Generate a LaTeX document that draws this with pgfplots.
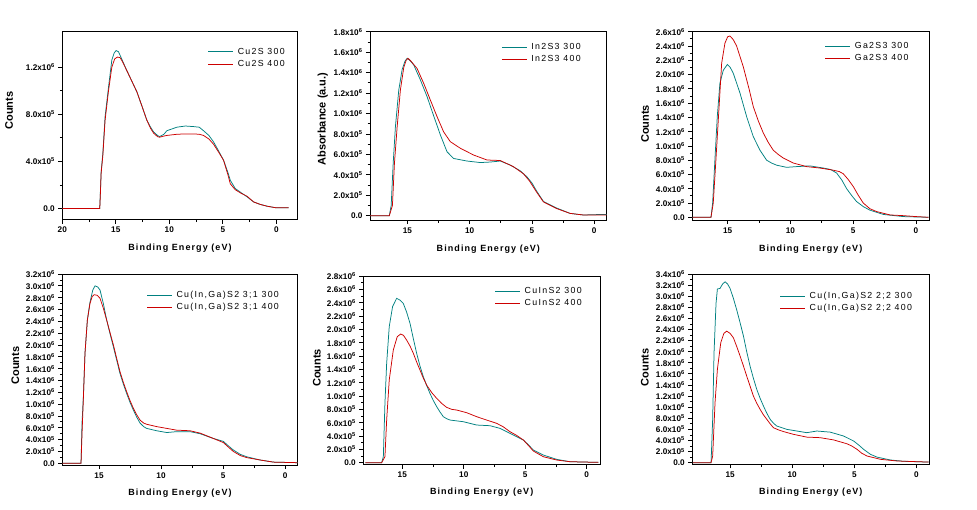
\documentclass[border=0pt]{standalone}
\usepackage{fontspec}
\setmainfont{Liberation Sans}
\newfontfamily\tickfont{Liberation Sans}
\newfontfamily\xlabfont[LetterSpace=12]{Liberation Sans}
\newfontfamily\legfont[LetterSpace=15]{Liberation Sans}
\usepackage{pgfplots}
\pgfplotsset{compat=1.18}
\definecolor{cteal}{RGB}{0,128,128}
\definecolor{cred}{RGB}{204,0,0}
\newcommand\tf[2]{#1x10\textsuperscript{#2}}
\pgfplotsset{
  panel/.style={
    scale only axis, anchor=south west, x dir=reverse,
    axis line style={line width=0.8pt, black},
    tick align=outside, xtick pos=bottom, ytick pos=left,
    major tick length=4pt, minor tick length=2.5pt,
    every tick/.style={black, line width=0.8pt},
    minor x tick num=1, minor y tick num=1,
    /pgf/number format/assume math mode=true,
    tick label style={font=\tickfont\bfseries\fontsize{8.2}{9}\selectfont},
    xlabel={Binding Energy (eV)},
    xlabel style={font=\xlabfont\bfseries\fontsize{9}{10}\selectfont, anchor=center},
    ylabel style={font=\bfseries\fontsize{11}{12}\selectfont, anchor=center},
    legend cell align=left,
    legend image code/.code={\draw[#1] (0pt,0pt) -- (25pt,0pt);},
    legend style={draw=none, fill=none, inner sep=0pt, outer sep=0pt,
      row sep=4.5pt, column sep=4pt, anchor=north west,
      font=\legfont\fontsize{8.8}{9}\selectfont,
      nodes={inner sep=0pt}},
    every axis plot/.append style={line width=0.75pt},
  },
}
\begin{document}
\begin{tikzpicture}
\useasboundingbox (0,0) rectangle (977pt,-509pt);
% ---------------- Panel 1: Cu2S
\begin{axis}[panel, at={(62.3pt,-219.5pt)}, width=235.4pt, height=187.8pt,
  xmin=-2, xmax=20, ymin=-0.093, ymax=1.5,
  xtick={20,15,10,5,0},
  ytick={0,0.4,0.8,1.2},
  yticklabels={0.0,\tf{4.0}{5},\tf{8.0}{5},\tf{1.2}{6}},
  ylabel={Counts},
  ylabel style={at={(axis description cs:-0.226,0.58)}},
  xlabel style={at={(axis description cs:0.5,-0.154)}},
  legend style={at={(axis description cs:0.619,0.913)}}]
\addplot[cteal] coordinates {(20,0) (16.5,0) (16.45,0.12) (16.37,0.31) (16.21,0.47) (16.0,0.78) (15.68,1.03) (15.37,1.26) (15.15,1.32) (14.97,1.34) (14.75,1.33) (14.5,1.28) (13.97,1.17) (13.5,1.08) (13.03,0.99) (12.6,0.88) (12.1,0.75) (11.75,0.69) (11.47,0.65) (11.1,0.62) (10.91,0.61) (10.5,0.63) (10.23,0.66) (9.29,0.69) (8.5,0.70) (7.73,0.695) (7.2,0.69) (6.80,0.66) (6.3,0.62) (5.86,0.565) (5.4,0.49) (4.93,0.41) (4.5,0.30) (4.30,0.24) (3.84,0.17) (3.3,0.135) (2.74,0.10) (2.12,0.056) (1.5,0.035) (0.87,0.02) (0,0.006) (-1.15,0.006)};
\addplot[cred] coordinates {(20,0) (16.5,0) (16.45,0.10) (16.37,0.30) (16.21,0.45) (16.0,0.75) (15.68,1.0) (15.37,1.2) (15.1,1.27) (14.84,1.285) (14.6,1.28) (14.4,1.25) (13.97,1.17) (13.5,1.08) (13.03,0.99) (12.6,0.88) (12.1,0.75) (11.75,0.68) (11.47,0.64) (11.1,0.61) (10.91,0.605) (10.5,0.615) (10.23,0.62) (9.29,0.63) (8.5,0.633) (7.73,0.633) (7.2,0.63) (6.80,0.62) (6.3,0.59) (5.86,0.545) (5.4,0.48) (4.93,0.41) (4.5,0.28) (4.30,0.21) (3.84,0.16) (3.3,0.13) (2.74,0.105) (2.12,0.056) (1.5,0.035) (0.87,0.02) (0,0.006) (-1.15,0.006)};
\legend{Cu2S 300, Cu2S 400}
\end{axis}
% ---------------- Panel 2: In2S3
\begin{axis}[panel, at={(370pt,-220pt)}, width=236.7pt, height=188.3pt,
  xmin=-1, xmax=18, ymin=-0.042, ymax=1.8,
  xtick={15,10,5,0},
  ytick={0,0.2,0.4,0.6,0.8,1.0,1.2,1.4,1.6,1.8},
  yticklabels={0.0,\tf{2.0}{5},\tf{4.0}{5},\tf{6.0}{5},\tf{8.0}{5},\tf{1.0}{6},\tf{1.2}{6},\tf{1.4}{6},\tf{1.6}{6},\tf{1.8}{6}},
  ylabel={Absorbance (a.u.)},
  ylabel style={at={(axis description cs:-0.199,0.536)}},
  xlabel style={at={(axis description cs:0.5,-0.154)}},
  legend style={at={(axis description cs:0.556,0.938)}}]
\addplot[cteal] coordinates {(18,0) (16.45,0) (16.3,0.1) (16.14,0.51) (15.96,0.87) (15.69,1.23) (15.42,1.43) (15.2,1.51) (15.02,1.54) (14.8,1.52) (14.49,1.475) (13.96,1.33) (13.42,1.165) (12.87,0.97) (12.35,0.79) (11.82,0.626) (11.29,0.56) (10.22,0.535) (9.15,0.52) (8.35,0.525) (7.55,0.535) (6.75,0.496) (5.95,0.44) (5.4,0.38) (5.0,0.32) (4.62,0.24) (4.08,0.14) (3.02,0.075) (1.95,0.023) (0.88,0.007) (0,0.01) (-0.72,0.013) (-1,0.013)};
\addplot[cred] coordinates {(18,0) (16.45,0) (16.2,0.1) (16.04,0.51) (15.82,0.87) (15.56,1.23) (15.29,1.45) (15.1,1.52) (14.95,1.54) (14.7,1.51) (14.22,1.44) (13.69,1.295) (13.15,1.13) (12.62,0.97) (12.09,0.82) (11.55,0.724) (10.75,0.66) (9.69,0.594) (8.61,0.545) (7.55,0.54) (6.49,0.48) (5.68,0.41) (5.2,0.34) (4.62,0.23) (4.08,0.135) (3.02,0.07) (1.95,0.023) (0.88,0.007) (-1,0.007)};
\legend{In2S3 300, In2S3 400}
\end{axis}
% ---------------- Panel 3: Ga2S3
\begin{axis}[panel, at={(692.3pt,-220pt)}, width=236.7pt, height=188.3pt,
  xmin=-1.04, xmax=17.82, ymin=-0.038, ymax=2.6,
  xtick={15,10,5,0},
  ytick={0,0.2,0.4,0.6,0.8,1.0,1.2,1.4,1.6,1.8,2.0,2.2,2.4,2.6},
  yticklabels={0.0,\tf{2.0}{5},\tf{4.0}{5},\tf{6.0}{5},\tf{8.0}{5},\tf{1.0}{6},\tf{1.2}{6},\tf{1.4}{6},\tf{1.6}{6},\tf{1.8}{6},\tf{2.0}{6},\tf{2.2}{6},\tf{2.4}{6},\tf{2.6}{6}},
  ylabel={Counts},
  ylabel style={at={(axis description cs:-0.2,0.51)}},
  xlabel style={at={(axis description cs:0.5,-0.154)}},
  legend style={at={(axis description cs:0.561,0.942)}}]
\addplot[cteal] coordinates {(18,0) (16.33,0) (16.2,0.2) (16.02,0.80) (15.83,1.41) (15.62,1.88) (15.35,2.06) (15.03,2.14) (14.8,2.10) (14.56,2.02) (14.02,1.74) (13.49,1.41) (12.96,1.13) (12.43,0.94) (11.9,0.80) (11.5,0.76) (11.1,0.73) (10.31,0.70) (9.51,0.71) (8.45,0.72) (7.38,0.69) (6.8,0.67) (6.32,0.62) (5.9,0.52) (5.52,0.40) (5.1,0.30) (4.73,0.22) (4.2,0.15) (3.67,0.10) (2.6,0.04) (1.01,0.01) (-1,0.0)};
\addplot[cred] coordinates {(18,0) (16.33,0) (16.15,0.2) (15.94,0.80) (15.75,1.36) (15.48,2.16) (15.22,2.44) (15.0,2.53) (14.82,2.54) (14.56,2.49) (14.29,2.40) (13.76,2.11) (13.3,1.80) (12.96,1.55) (12.56,1.35) (12.16,1.18) (11.77,1.05) (11.37,0.94) (10.97,0.88) (10.57,0.83) (9.77,0.76) (8.71,0.71) (7.65,0.69) (6.59,0.66) (6.1,0.64) (5.79,0.61) (5.4,0.53) (4.99,0.43) (4.6,0.31) (4.2,0.20) (3.67,0.12) (3.13,0.08) (2.07,0.033) (1.01,0.023) (0,0.01) (-1,0)};
\legend{Ga2S3 300, Ga2S3 400}
\end{axis}
% ---------------- Panel 4: Cu(In,Ga)S2 3;1
\begin{axis}[panel, at={(62.3pt,-465pt)}, width=235.4pt, height=191pt,
  xmin=-1.02, xmax=17.96, ymin=-0.029, ymax=3.2,
  xtick={15,10,5,0},
  ytick={0,0.2,0.4,0.6,0.8,1.0,1.2,1.4,1.6,1.8,2.0,2.2,2.4,2.6,2.8,3.0,3.2},
  yticklabels={0.0,\tf{2.0}{5},\tf{4.0}{5},\tf{6.0}{5},\tf{8.0}{5},\tf{1.0}{6},\tf{1.2}{6},\tf{1.4}{6},\tf{1.6}{6},\tf{1.8}{6},\tf{2.0}{6},\tf{2.2}{6},\tf{2.4}{6},\tf{2.6}{6},\tf{2.8}{6},\tf{3.0}{6},\tf{3.2}{6}},
  ylabel={Counts},
  ylabel style={at={(axis description cs:-0.2,0.52)}},
  xlabel style={at={(axis description cs:0.5,-0.148)}},
  legend style={at={(axis description cs:0.359,0.911)}}]
\addplot[cteal] coordinates {(18,0) (16.45,0) (16.37,0.68) (16.26,1.13) (16.13,1.86) (15.94,2.42) (15.73,2.72) (15.5,2.93) (15.32,3.0) (15.1,2.98) (14.92,2.93) (14.65,2.70) (14.38,2.42) (14.1,2.18) (13.84,1.97) (13.57,1.74) (13.31,1.52) (13.04,1.34) (12.77,1.18) (12.5,1.03) (12.23,0.90) (11.96,0.78) (11.69,0.68) (11.4,0.62) (11.16,0.59) (10.35,0.55) (9.54,0.52) (8.74,0.535) (7.66,0.535) (6.85,0.50) (5.78,0.42) (4.97,0.37) (4.6,0.30) (4.17,0.225) (3.6,0.15) (3.09,0.11) (2.02,0.056) (0.94,0.02) (-1.08,0.01)};
\addplot[cred] coordinates {(18,0) (16.45,0) (16.37,0.5) (16.26,1.10) (16.13,1.86) (15.94,2.42) (15.73,2.70) (15.55,2.82) (15.38,2.85) (15.15,2.84) (14.92,2.79) (14.65,2.62) (14.38,2.42) (14.1,2.2) (13.84,2.0) (13.57,1.77) (13.31,1.55) (13.04,1.37) (12.77,1.21) (12.5,1.06) (12.23,0.93) (11.96,0.82) (11.69,0.73) (11.4,0.68) (11.16,0.66) (10.35,0.62) (9.54,0.59) (8.74,0.56) (7.66,0.55) (6.85,0.51) (5.78,0.42) (4.97,0.35) (4.6,0.28) (4.17,0.20) (3.6,0.13) (3.09,0.096) (2.02,0.056) (0.94,0.02) (-1.08,0.01)};
\legend{{Cu(In,Ga)S2 3;1 300}, {Cu(In,Ga)S2 3;1 400}}
\end{axis}
% ---------------- Panel 5: CuInS2
\begin{axis}[panel, at={(363.3pt,-464.5pt)}, width=236.7pt, height=188.5pt,
  xmin=-1.08, xmax=18.17, ymin=-0.027, ymax=2.8,
  xtick={15,10,5,0},
  ytick={0,0.2,0.4,0.6,0.8,1.0,1.2,1.4,1.6,1.8,2.0,2.2,2.4,2.6,2.8},
  yticklabels={0.0,\tf{2.0}{5},\tf{4.0}{5},\tf{6.0}{5},\tf{8.0}{5},\tf{1.0}{6},\tf{1.2}{6},\tf{1.4}{6},\tf{1.6}{6},\tf{1.8}{6},\tf{2.0}{6},\tf{2.2}{6},\tf{2.4}{6},\tf{2.6}{6},\tf{2.8}{6}},
  ylabel={Counts},
  ylabel style={at={(axis description cs:-0.196,0.512)}},
  xlabel style={at={(axis description cs:0.5,-0.148)}},
  legend style={at={(axis description cs:0.556,0.938)}}]
\addplot[cteal] coordinates {(18,0) (16.68,0) (16.54,0.09) (16.41,0.89) (16.27,1.49) (16.06,2.04) (15.79,2.34) (15.46,2.465) (15.2,2.44) (14.92,2.39) (14.65,2.26) (14.37,2.09) (14.1,1.86) (13.83,1.64) (13.56,1.45) (13.29,1.29) (13.02,1.16) (12.75,1.04) (12.47,0.93) (12.2,0.84) (11.93,0.76) (11.66,0.69) (11.39,0.66) (11.12,0.64) (10.04,0.615) (8.95,0.565) (7.87,0.555) (7.05,0.515) (6.24,0.44) (5.15,0.34) (4.7,0.26) (4.34,0.19) (3.53,0.115) (2.44,0.05) (1.36,0.015) (-0.95,0.005)};
\addplot[cred] coordinates {(18,0) (16.68,0) (16.41,0.09) (16.27,0.64) (16.06,1.24) (15.73,1.69) (15.41,1.89) (15.13,1.93) (14.9,1.91) (14.65,1.84) (14.37,1.75) (14.1,1.64) (13.83,1.51) (13.56,1.39) (13.29,1.27) (13.02,1.165) (12.6,1.05) (12.2,0.965) (11.8,0.89) (11.39,0.83) (10.98,0.80) (10.58,0.79) (9.76,0.75) (8.95,0.69) (8.14,0.64) (7.32,0.59) (6.8,0.54) (6.24,0.465) (5.7,0.41) (5.15,0.34) (4.7,0.25) (4.34,0.175) (3.53,0.09) (2.44,0.04) (1.36,0.015) (-0.95,0.005)};
\legend{CuInS2 300, CuInS2 400}
\end{axis}
% ---------------- Panel 6: Cu(In,Ga)S2 2;2
\begin{axis}[panel, at={(692.3pt,-464.3pt)}, width=237pt, height=190.3pt,
  xmin=-1.04, xmax=18.04, ymin=-0.03, ymax=3.4,
  xtick={15,10,5,0},
  ytick={0,0.2,0.4,0.6,0.8,1.0,1.2,1.4,1.6,1.8,2.0,2.2,2.4,2.6,2.8,3.0,3.2,3.4},
  yticklabels={0.0,\tf{2.0}{5},\tf{4.0}{5},\tf{6.0}{5},\tf{8.0}{5},\tf{1.0}{6},\tf{1.2}{6},\tf{1.4}{6},\tf{1.6}{6},\tf{1.8}{6},\tf{2.0}{6},\tf{2.2}{6},\tf{2.4}{6},\tf{2.6}{6},\tf{2.8}{6},\tf{3.0}{6},\tf{3.2}{6},\tf{3.4}{6}},
  ylabel={Counts},
  ylabel style={at={(axis description cs:-0.2,0.51)}},
  xlabel style={at={(axis description cs:0.5,-0.148)}},
  legend style={at={(axis description cs:0.37,0.905)}}]
\addplot[cteal] coordinates {(18,0) (16.53,0) (16.4,0.78) (16.29,1.98) (16.13,2.87) (16.02,3.13) (15.81,3.14) (15.6,3.22) (15.4,3.26) (15.2,3.22) (15.0,3.14) (14.73,2.96) (14.46,2.75) (14.19,2.52) (13.92,2.28) (13.66,2.0) (13.39,1.74) (13.12,1.52) (12.85,1.32) (12.58,1.16) (12.31,1.02) (12.04,0.89) (11.77,0.78) (11.5,0.71) (11.24,0.66) (10.43,0.60) (9.62,0.57) (8.82,0.54) (8.01,0.57) (6.94,0.55) (5.86,0.48) (5.05,0.39) (4.6,0.31) (4.25,0.24) (3.7,0.15) (3.17,0.10) (2.1,0.048) (1.02,0.024) (-0.99,0.01)};
\addplot[cred] coordinates {(18,0) (16.53,0) (16.4,0.12) (16.21,1.08) (16.02,1.68) (15.75,2.16) (15.5,2.33) (15.27,2.37) (15.0,2.33) (14.73,2.25) (14.46,2.09) (14.19,1.92) (13.92,1.74) (13.66,1.56) (13.39,1.38) (13.12,1.20) (12.85,1.07) (12.58,0.96) (12.31,0.86) (12.04,0.78) (11.77,0.70) (11.51,0.63) (11.1,0.59) (10.7,0.56) (9.89,0.51) (8.82,0.46) (7.74,0.45) (6.67,0.41) (5.59,0.34) (5.2,0.30) (4.78,0.24) (4.4,0.17) (3.98,0.12) (2.9,0.06) (1.56,0.03) (-0.99,0.01)};
\legend{{Cu(In,Ga)S2 2;2 300}, {Cu(In,Ga)S2 2;2 400}}
\end{axis}
\end{tikzpicture}
\end{document}
